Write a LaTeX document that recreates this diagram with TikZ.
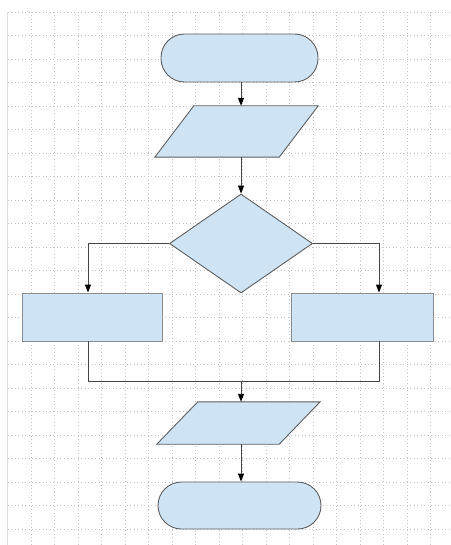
\documentclass[tikz,border=0pt]{standalone}
\usetikzlibrary{shapes.geometric,arrows.meta,calc}
\definecolor{boxfill}{RGB}{206,228,245}
\definecolor{boxline}{RGB}{95,95,95}
\definecolor{rectline}{RGB}{140,140,140}
\definecolor{conline}{RGB}{70,70,70}
\definecolor{gridc}{RGB}{200,200,200}
\begin{document}
\begin{tikzpicture}[x=1pt,y=-1pt,
  terminal/.style={draw=boxline,fill=boxfill,line width=0.9pt,rectangle,rounded corners=23.5pt,inner sep=0pt},
  iobox/.style={rectangle,inner sep=0pt},
  ioshape/.style={draw=boxline,fill=boxfill,line width=0.9pt,line join=miter},
  decision/.style={draw=boxline,fill=boxfill,line width=0.9pt,diamond,inner sep=0pt},
  process/.style={draw=rectline,fill=boxfill,line width=0.9pt,rectangle,inner sep=0pt,minimum height=48pt},
  conn/.style={draw=conline,line width=0.9pt},
  arr/.style={conn,-{Triangle[length=8pt,width=6pt,color=black]}},
  gridline/.style={draw=gridc,line width=0.5pt,dash pattern=on 1pt off 2.5pt}]
\useasboundingbox (0,0) rectangle (450,545);
\fill[white] (0,0) rectangle (450,545);
% grid
\foreach \i in {1,...,18} {\draw[gridline] (7.5+23.5*\i,12) -- (7.5+23.5*\i,545);}
\foreach \j in {0,...,22} {\draw[gridline] (7.5,12+23.5*\j) -- (450,12+23.5*\j);}
\draw[draw=gridc!60,line width=1.5pt] (7.5,12) -- (7.5,545);
% nodes
\node[terminal,minimum width=157pt,minimum height=48pt] (t1) at (239.5,58) {};
\node[iobox,minimum width=163pt,minimum height=51pt] (p1) at (236.5,131.5) {};
\draw[ioshape] ($(p1.north west)+(39,0)$) -- (p1.north east) -- ($(p1.south east)-(39,0)$) -- (p1.south west) -- cycle;
\node[decision,minimum width=143pt,minimum height=99pt] (d) at (241,243.5) {};
\node[process,minimum width=140pt] (r1) at (92,317) {};
\node[process,minimum width=142pt] (r2) at (362,317) {};
\node[iobox,minimum width=163pt,minimum height=42pt] (p2) at (238.5,423) {};
\draw[ioshape] ($(p2.north west)+(41,0)$) -- (p2.north east) -- ($(p2.south east)-(41,0)$) -- (p2.south west) -- cycle;
\node[terminal,minimum width=163pt,minimum height=47pt] (t2) at (239.5,505.5) {};
\coordinate (m) at (241,381);
\coordinate (ml) at (88,381);
\coordinate (mr) at (379,381);
% connectors
\draw[arr] (d.north |- t1.south) -- (d.north |- p1.north);
\draw[arr] (d.north |- p1.south) -- (d.north);
\draw[arr] (d.west) -| (ml |- r1.north);
\draw[arr] (d.east) -| (mr |- r2.north);
\draw[conn] (ml |- r1.south) -- (ml) -- (mr) -- (mr |- r2.south);
\draw[arr] (m) -- (m |- p2.north);
\draw[arr] (m |- p2.south) -- (m |- t2.north);
\end{tikzpicture}
\end{document}
